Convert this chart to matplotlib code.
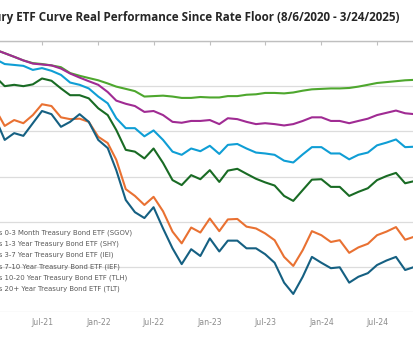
import pandas as pd
import matplotlib.pyplot as plt
from matplotlib.ticker import FuncFormatter
import matplotlib.dates as mdates

# monthly points, Aug 2020 -> Mar 2025 (real performance, %)
dates = pd.date_range('2020-08-01', '2025-03-01', freq='MS')

sgov = [0, -0.3, -0.5, -0.7, -1.0, -1.4, -2.0, -2.7, -3.5, -4.3, -4.9, -5.1, -5.4, -5.8,
        -7.1, -7.7, -8.2, -8.7, -9.4, -10.1, -10.6, -11.1, -12.3, -12.2, -12.1, -12.3,
        -12.6, -12.6, -12.4, -12.5, -12.5, -12.2, -12.2, -11.9, -11.8, -11.5, -11.5,
        -11.6, -11.4, -11.0, -10.7, -10.6, -10.5, -10.5, -10.4, -10.1, -9.7, -9.3, -9.1,
        -8.9, -8.7, -8.6, -8.5, -8.4, -8.3, -8.1]
shy = [0, -0.3, -0.5, -0.6, -0.9, -1.3, -2.0, -2.7, -3.5, -4.3, -5.0, -5.2, -5.4, -6.1,
       -7.2, -8.1, -8.9, -9.7, -11.3, -13.2, -13.9, -14.4, -15.7, -15.5, -16.4, -17.9,
       -18.1, -17.7, -17.7, -17.5, -18.4, -17.1, -17.3, -17.9, -18.4, -18.2, -18.4,
       -18.7, -18.4, -17.7, -16.9, -16.9, -17.7, -17.7, -18.2, -17.7, -17.2, -16.4,
       -15.9, -15.4, -16.0, -16.2, -16.3, -16.0, -15.6, -15.3]
iei = [0, -0.8, -1.2, -1.0, -1.5, -2.5, -4.1, -5.1, -5.3, -5.5, -6.4, -6.0, -6.6, -7.5,
       -9.2, -9.7, -10.5, -12.3, -13.8, -17.1, -19.3, -19.3, -21.1, -19.8, -21.9, -24.5,
       -25.2, -23.8, -24.4, -23.2, -25.0, -23.0, -22.8, -23.8, -24.7, -24.9, -25.2,
       -26.5, -26.9, -25.1, -23.5, -23.5, -24.9, -24.9, -26.2, -25.2, -24.7, -23.1,
       -22.5, -21.8, -23.5, -23.4, -24.2, -24.0, -23.4, -22.9]
ief = [0, -1.5, -2.5, -2.2, -3.5, -5.5, -8.1, -10.0, -9.7, -10.0, -9.6, -8.3, -8.8, -10.5,
       -12.0, -12.0, -12.7, -14.9, -16.4, -19.7, -24.1, -24.5, -26.0, -23.8, -27.0, -30.8,
       -31.9, -29.7, -30.6, -28.6, -31.2, -28.7, -28.3, -29.4, -30.5, -31.3, -32.0,
       -34.3, -35.4, -33.0, -30.7, -30.6, -32.3, -32.3, -34.3, -33.4, -32.6, -30.8,
       -29.9, -29.2, -31.5, -31.0, -32.5, -32.2, -31.4, -30.6]
tlh = [0, -3.0, -5.0, -4.5, -7.0, -10.5, -15.4, -18.8, -17.5, -18.2, -16.4, -14.0, -14.4,
       -16.9, -17.3, -17.2, -17.9, -21.2, -22.6, -26.3, -32.8, -34.3, -36.3, -34.5, -37.7,
       -42.2, -44.8, -41.3, -42.4, -39.3, -42.1, -39.5, -39.4, -41.1, -41.5, -42.6,
       -44.1, -47.8, -49.8, -46.3, -42.1, -43.0, -44.5, -44.1, -46.9, -45.7, -44.9,
       -43.0, -42.2, -41.2, -44.0, -43.3, -45.5, -45.2, -44.0, -43.2]
tlt = [0, -3.5, -6.0, -5.5, -8.5, -12.5, -17.5, -21.9, -20.4, -21.0, -18.2, -15.5, -16.2,
       -19.0, -17.9, -16.2, -17.9, -21.9, -23.7, -28.6, -35.2, -37.9, -39.2, -36.8, -41.5,
       -45.9, -49.4, -46.1, -47.6, -43.7, -46.6, -44.2, -44.2, -45.9, -45.9, -47.2,
       -49.1, -53.5, -56.0, -52.2, -47.8, -49.1, -50.3, -50.1, -53.5, -52.2, -51.4,
       -49.6, -48.6, -47.8, -50.7, -50.0, -52.5, -52.5, -51.0, -50.5]

labels = ['iShares 0-3 Month Treasury Bond ETF (SGOV)',
          'iShares 1-3 Year Treasury Bond ETF (SHY)',
          'iShares 3-7 Year Treasury Bond ETF (IEI)',
          'iShares 7-10 Year Treasury Bond ETF (IEF)',
          'iShares 10-20 Year Treasury Bond ETF (TLH)',
          'iShares 20+ Year Treasury Bond ETF (TLT)']
colors = ['#4EA72E', '#A02B93', '#0F9ED5', '#196B24', '#E97132', '#156082']
tick_dates = pd.date_range('2021-07-01', '2024-07-01', freq='6MS')

plt.rcParams['font.family'] = ['DejaVu Sans']

W, H = 414, 346
fig = plt.figure(figsize=(W / 100, H / 100), dpi=100)

# plot area runs past the edges of the picture (cropped screenshot)
x0, x1 = -60.1, 451.3
y0, y1 = 41, 312
ax = fig.add_axes([x0 / W, 1 - y1 / H, (x1 - x0) / W, (y1 - y0) / H])

for vals, lab, c in zip([sgov, shy, iei, ief, tlh, tlt], labels, colors):
    ax.plot(dates, vals, color=c, lw=1.5, label=lab, zorder=3)

ax.set_xlim(dates[0], dates[-1])
ax.set_ylim(-60, 0)
ax.set_yticks(range(-60, 1, 10))
ax.yaxis.set_major_formatter(FuncFormatter(lambda v, p: f'{v:.0f}%'))
ax.yaxis.grid(True, color='#dcdcdc', lw=0.9)
ax.set_axisbelow(True)

ax.set_xticks(tick_dates)
ax.xaxis.set_major_formatter(mdates.DateFormatter('%b-%y'))
ax.tick_params(axis='x', bottom=False, top=True, labelbottom=True, labeltop=False,
               direction='in', length=3, width=0.8, color='#bfbfbf',
               labelsize=5.6, labelcolor='#8c8c8c', pad=4)
ax.tick_params(axis='y', left=False, labelleft=False)

for s in ['left', 'right', 'bottom']:
    ax.spines[s].set_visible(False)
ax.spines['top'].set_color('#bfbfbf')
ax.spines['top'].set_linewidth(1)

ax.legend(loc='upper left', bbox_to_anchor=(-41.8 / W, 1 - 229.5 / H),
          bbox_transform=fig.transFigure, frameon=False, fontsize=4.95,
          labelcolor='#595959', handlelength=2.0, handletextpad=0.8,
          borderpad=0, borderaxespad=0, labelspacing=0.68)

fig.text(400 / W, 1 - 18 / H,
         'Treasury ETF Curve Real Performance Since Rate Floor (8/6/2020 - 3/24/2025)',
         ha='right', va='center', fontsize=8.35, fontweight='bold', color='#262626',
         family='Open Sans')

fig.savefig('out.png', dpi=100)
